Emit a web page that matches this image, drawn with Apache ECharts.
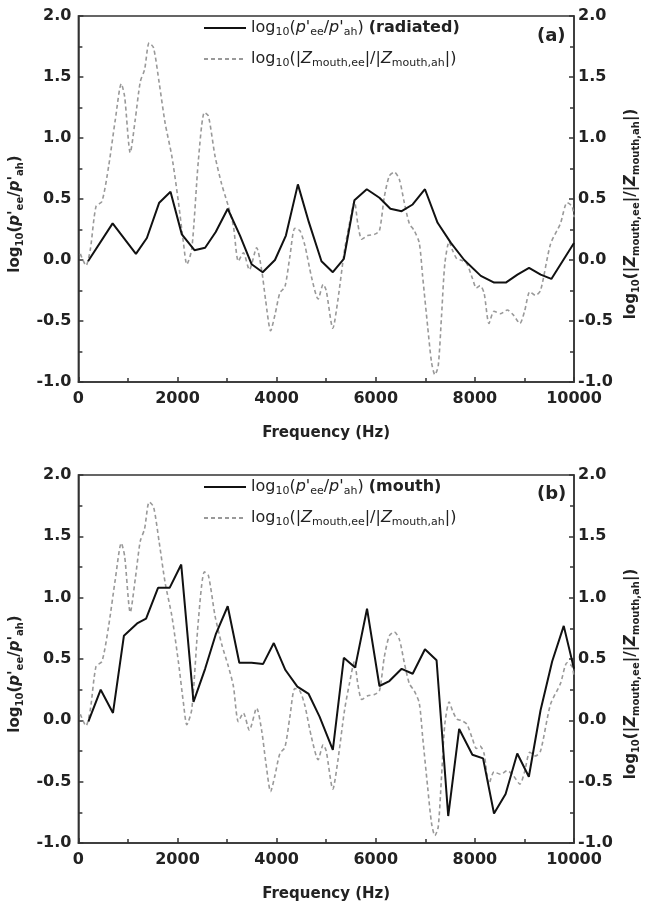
<!DOCTYPE html>
<html>
<head>
<meta charset="utf-8">
<script src="https://cdn.jsdelivr.net/npm/echarts@6.0.0/dist/echarts.min.js"></script>
<style>
  html, body { margin: 0; padding: 0; background: #fff; }
  #chart { width: 652px; height: 905px; }
</style>
</head>
<body>
<div id="chart"></div>
<script>
// radiated pressure ratio, panel (a)
const freqRad = [195, 691, 1161, 1382, 1631, 1859, 2087, 2342, 2557, 2771, 3013, 3261, 3496, 3718, 3966, 4187, 4429, 4650, 4905, 5134, 5356, 5570, 5819, 6074, 6295, 6523, 6745, 6993, 7248, 7516, 7785, 8120, 8389, 8624, 8859, 9093, 9328, 9543, 10000]
const valRad = [-0.01, 0.30, 0.05, 0.18, 0.47, 0.56, 0.21, 0.08, 0.10, 0.23, 0.42, 0.20, -0.035, -0.10, 0.0, 0.20, 0.62, 0.31, -0.01, -0.10, 0.01, 0.49, 0.58, 0.51, 0.42, 0.40, 0.455, 0.58, 0.305, 0.14, 0.0, -0.13, -0.185, -0.185, -0.12, -0.065, -0.12, -0.155, 0.14]

// mouth pressure ratio, panel (b)
const freqMouth = [201, 450, 698, 919, 1054, 1185, 1366, 1607, 1841, 2075, 2323, 2557, 2771, 3013, 3247, 3494, 3728, 3943, 4177, 4418, 4646, 4866, 5134, 5356, 5583, 5824, 6074, 6275, 6523, 6745, 6993, 7227, 7462, 7683, 7950, 8165, 8386, 8620, 8855, 9089, 9324, 9559, 9793, 10000]
const valMouth = [-0.01, 0.25, 0.06, 0.69, 0.74, 0.79, 0.83, 1.08, 1.08, 1.27, 0.15, 0.42, 0.70, 0.93, 0.47, 0.47, 0.46, 0.63, 0.41, 0.275, 0.215, 0.03, -0.24, 0.51, 0.43, 0.91, 0.28, 0.32, 0.42, 0.38, 0.58, 0.49, -0.78, -0.07, -0.28, -0.31, -0.76, -0.60, -0.27, -0.46, 0.08, 0.48, 0.77, 0.42]

// mouth impedance ratio (same in both panels)
const freqZ = [40, 154, 242, 356, 476, 611, 745, 866, 933, 1047, 1147, 1248, 1335, 1429, 1517, 1631, 1751, 1886, 2020, 2120, 2188, 2288, 2422, 2543, 2624, 2758, 2892, 3026, 3127, 3228, 3328, 3450, 3597, 3697, 3778, 3879, 3966, 4066, 4167, 4268, 4368, 4469, 4570, 4704, 4838, 4939, 5000, 5134, 5235, 5369, 5469, 5570, 5637, 5718, 5838, 5972, 6074, 6174, 6275, 6375, 6476, 6576, 6677, 6777, 6878, 6945, 7046, 7126, 7193, 7260, 7327, 7394, 7481, 7548, 7635, 7716, 7836, 7950, 8030, 8104, 8185, 8285, 8386, 8520, 8654, 8775, 8909, 9003, 9110, 9224, 9325, 9526, 9727, 9861, 9962, 10000]
const valZ = [0.05, -0.045, 0.09, 0.44, 0.48, 0.77, 1.15, 1.445, 1.34, 0.88, 1.15, 1.46, 1.56, 1.78, 1.74, 1.45, 1.12, 0.85, 0.47, 0.14, -0.035, 0.09, 0.82, 1.21, 1.18, 0.85, 0.62, 0.44, 0.28, -0.01, 0.06, -0.08, 0.10, -0.08, -0.33, -0.58, -0.45, -0.27, -0.22, 0.03, 0.26, 0.24, 0.12, -0.14, -0.32, -0.20, -0.25, -0.56, -0.33, 0.08, 0.30, 0.48, 0.30, 0.17, 0.20, 0.21, 0.24, 0.52, 0.69, 0.72, 0.66, 0.47, 0.30, 0.24, 0.14, -0.13, -0.54, -0.84, -0.94, -0.87, -0.46, -0.03, 0.15, 0.08, 0.01, 0.0, -0.03, -0.15, -0.23, -0.21, -0.27, -0.52, -0.42, -0.44, -0.41, -0.45, -0.52, -0.42, -0.26, -0.29, -0.25, 0.13, 0.30, 0.47, 0.44, 0.35]

const font = 'DejaVu Sans'
const ink = '#222'
const axisCol = '#333'

const zip = (xs, ys) => xs.map((x, i) => [x, ys[i]])

// rich styles for subscripts
const richFor = (size, weight) => ({
  n: { fontFamily: font, fontSize: size, fontWeight: weight, color: ink, lineHeight: 20 },
  i: { fontFamily: font, fontSize: size, fontWeight: weight, fontStyle: 'italic', color: ink, lineHeight: 20 },
  s: { fontFamily: font, fontSize: Math.round(size * 0.68), fontWeight: weight, color: ink, lineHeight: 8, verticalAlign: 'bottom' },
  b: { fontFamily: font, fontSize: size, fontWeight: 'bold', color: ink, lineHeight: 20 }
})

const pName = "{n|log}{s|10}{n|(}{i|p'}{s|ee}{n|/}{i|p'}{s|ah}{n|)}"
const zName = '{n|log}{s|10}{n|(|}{i|Z}{s|mouth,ee}{n||/|}{i|Z}{s|mouth,ah}{n||)}'

const legendText = {
  radA: pName + '{n| }{b|(radiated)}',
  zA: zName,
  mouthB: pName + '{n| }{b|(mouth)}',
  zB: zName
}

const grids = [
  { left: 76, top: 16, width: 498, height: 366 },
  { left: 76, top: 475, width: 498, height: 368 }
].map(g => Object.assign(g, { show: true, borderColor: axisCol, borderWidth: 1.5, backgroundColor: 'transparent' }))

const tickStyle = { color: axisCol, width: 1.5 }

const xAxes = [0, 1].map(gi => ({
  type: 'value', gridIndex: gi, min: 0, max: 10000, interval: 2000,
  axisLine: { show: true, onZero: false, lineStyle: tickStyle },
  axisTick: { show: true, inside: true, length: 5, lineStyle: tickStyle },
  minorTick: { show: true, splitNumber: 2, length: 4, lineStyle: tickStyle },
  splitLine: { show: false },
  axisLabel: { fontFamily: font, fontWeight: 'bold', fontSize: 16, color: ink, margin: 9, formatter: v => String(v) },
  name: 'Frequency (Hz)', nameLocation: 'middle', nameGap: 44,
  nameTextStyle: { fontFamily: font, fontWeight: 'bold', fontSize: 15, color: ink }
}))

const yAxis = (gi, pos) => ({
  type: 'value', gridIndex: gi, position: pos, min: -1, max: 2, interval: 0.5,
  axisLine: { show: true, onZero: false, lineStyle: tickStyle },
  axisTick: { show: true, inside: true, length: 5, lineStyle: tickStyle },
  minorTick: { show: true, splitNumber: 2, length: 4, lineStyle: tickStyle },
  splitLine: { show: false },
  axisLabel: {
    fontFamily: font, fontWeight: 'bold', fontSize: 16, color: ink,
    margin: pos === 'left' ? 7 : 4,
    formatter: v => v.toFixed(1)
  },
  name: pos === 'left' ? pName : zName,
  nameLocation: 'middle', nameRotate: 90,
  nameGap: pos === 'left' ? 39 : 43,
  nameTextStyle: { fontFamily: font, fontWeight: 'bold', fontSize: 15, color: ink, padding: [0, 30, 0, 0], rich: richFor(15, 'bold') }
})

const solid = { color: '#111', width: 2 }
const dashed = { color: '#999', width: 1.6, type: [4, 3] }

const line = (name, xi, yi, xs, ys, style, smooth) => ({
  name, type: 'line', xAxisIndex: xi, yAxisIndex: yi,
  data: zip(xs, ys), symbol: 'none', smooth: smooth || false,
  lineStyle: style, itemStyle: { color: style.color },
  z: style === solid ? 3 : 2, silent: true, animation: false
})

const legend = (name, top) => ({
  data: [name], left: 203, top, padding: 0, orient: 'vertical',
  itemWidth: 42, itemHeight: 14, itemGap: 0, selectedMode: false,
  itemStyle: { color: 'rgba(0,0,0,0)', borderColor: 'rgba(0,0,0,0)', borderWidth: 0 },
  formatter: n => legendText[n],
  textStyle: { fontFamily: font, fontSize: 16, color: ink, rich: richFor(16, 'normal') }
})

const option = {
  backgroundColor: '#fff',
  animation: false,
  grid: grids,
  xAxis: xAxes,
  yAxis: [yAxis(0, 'left'), yAxis(0, 'right'), yAxis(1, 'left'), yAxis(1, 'right')],
  title: [
    { text: '(a)', left: 537, top: 27, padding: 0, textStyle: { fontFamily: font, fontWeight: 'bold', fontSize: 18, color: ink } },
    { text: '(b)', left: 537, top: 485, padding: 0, textStyle: { fontFamily: font, fontWeight: 'bold', fontSize: 18, color: ink } }
  ],
  legend: [legend('radA', 20), legend('zA', 51), legend('mouthB', 479), legend('zB', 510)],
  series: [
    line('zA', 0, 0, freqZ, valZ, dashed, 0.25),
    line('radA', 0, 0, freqRad, valRad, solid),
    line('zB', 1, 2, freqZ, valZ, dashed, 0.25),
    line('mouthB', 1, 2, freqMouth, valMouth, solid)
  ]
}

const myChart = echarts.init(document.getElementById('chart'))
myChart.setOption(option)
</script>
</body>
</html>
